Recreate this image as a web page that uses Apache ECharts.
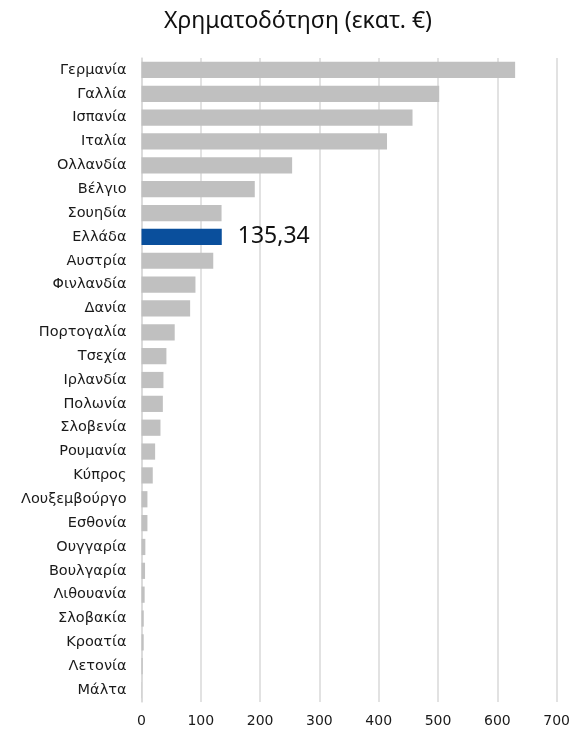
<!DOCTYPE html>
<html><head><meta charset="utf-8">
<script src="https://cdn.jsdelivr.net/npm/echarts@6/dist/echarts.min.js"></script>
<style>html,body{margin:0;padding:0;background:#fff}#c{width:573px;height:735px}</style>
</head><body><div id="c"></div>
<script>
const categories = ["Γερμανία","Γαλλία","Ισπανία","Ιταλία","Ολλανδία","Βέλγιο","Σουηδία","Ελλάδα","Αυστρία","Φινλανδία","Δανία","Πορτογαλία","Τσεχία","Ιρλανδία","Πολωνία","Σλοβενία","Ρουμανία","Κύπρος","Λουξεμβούργο","Εσθονία","Ουγγαρία","Βουλγαρία","Λιθουανία","Σλοβακία","Κροατία","Λετονία","Μάλτα"];
const values = [630, 502, 457, 414, 254, 191, 135, 135.34, 121, 91, 82, 56, 42, 37, 36, 32, 23, 19, 10, 10, 6.5, 6, 5.3, 3.8, 3.7, 2, 0.5];
const highlight = "Ελλάδα";
const xTicks = [0, 100, 200, 300, 400, 500, 600, 700];

const font = 'Noto Sans';
const labFont = 'DejaVu Sans';
const chart = echarts.init(document.getElementById('c'));
chart.setOption({
  animation: false,
  title: { text: 'Χρηματοδότηση (εκατ. €)', left: 293, top: 5, textAlign: 'center',
    textStyle: { fontFamily: font, fontWeight: 'normal', fontSize: 23, color: '#111' } },
  grid: { left: 141.5, right: 15.5, top: 58, bottom: 33, containLabel: false },
  xAxis: { type: 'value', min: xTicks[0], max: xTicks[xTicks.length - 1], interval: 100,
    axisLine: { show: false }, axisTick: { show: false },
    splitLine: { lineStyle: { color: '#d9d9d9', width: 1.5 } },
    axisLabel: { fontFamily: labFont, fontSize: 14, color: '#1a1a1a', margin: 12 } },
  yAxis: { type: 'category', data: categories, inverse: true,
    axisLine: { show: true, lineStyle: { color: '#d9d9d9', width: 1.5 } }, axisTick: { show: false },
    axisLabel: { fontFamily: labFont, fontSize: 14.5, color: '#1a1a1a', margin: 15 } },
  series: [{ type: 'bar', barCategoryGap: '32%',
    data: values.map((v, i) => ({ value: v,
      itemStyle: { color: categories[i] === highlight ? '#0a4f9c' : '#c0c0c0' },
      label: categories[i] === highlight ? { show: true, position: 'right', distance: 16,
        formatter: () => String(v).replace('.', ','), fontFamily: font, fontSize: 23, color: '#111' } : { show: false }
    })) }]
});
</script></body></html>
